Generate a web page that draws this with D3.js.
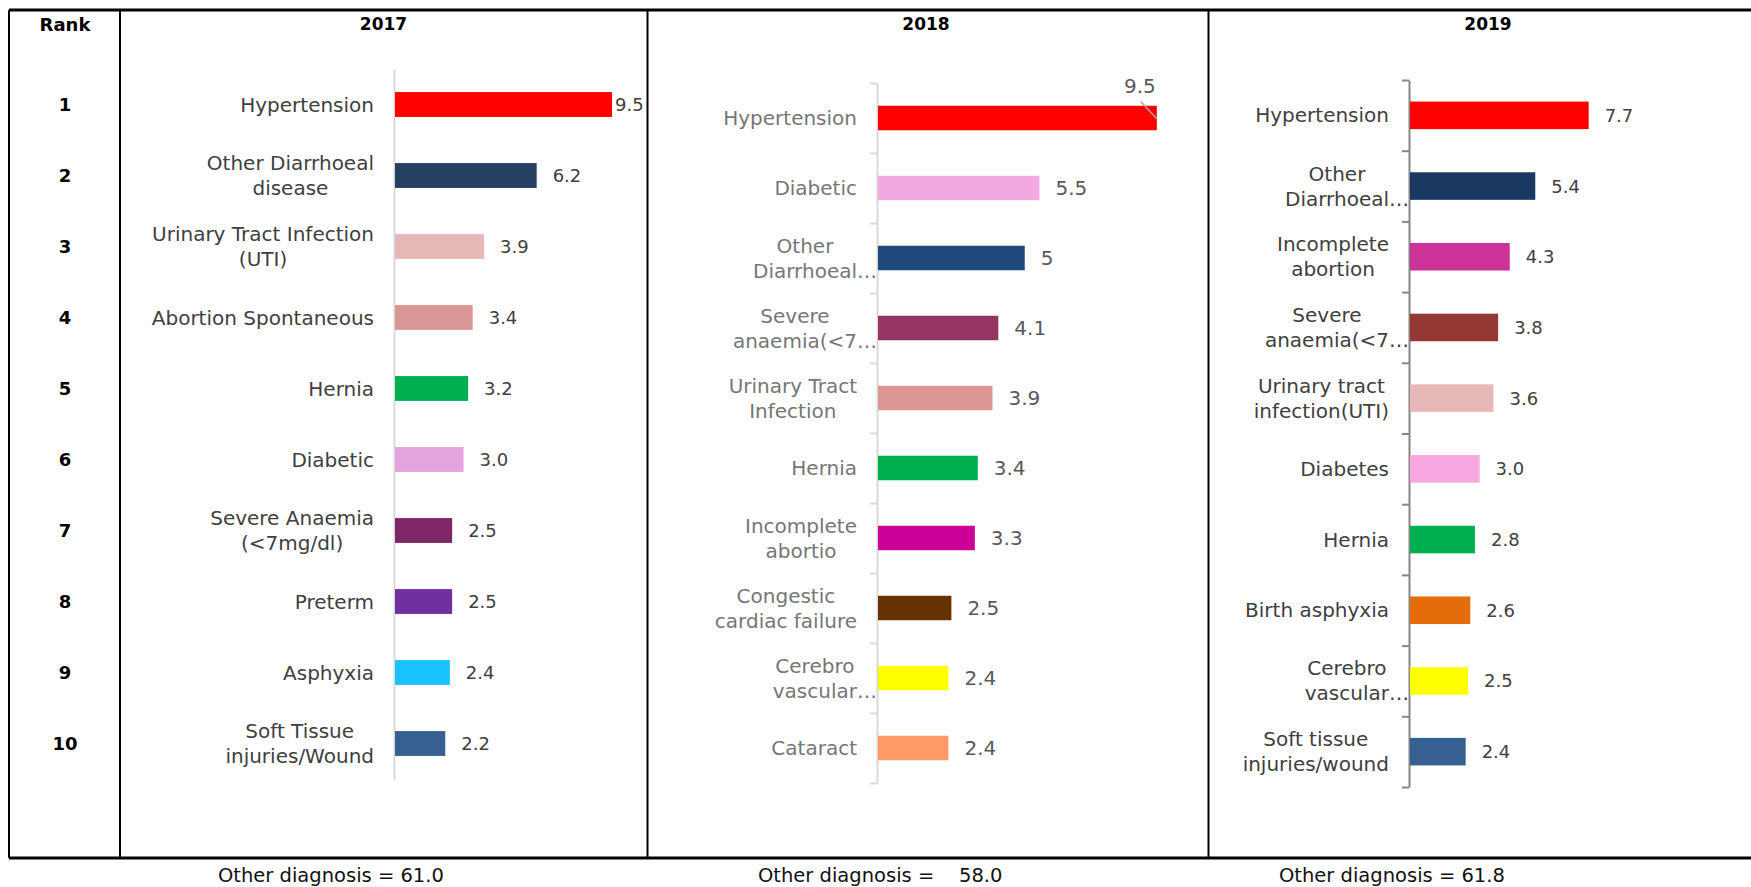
<!DOCTYPE html>
<html>
<head>
<meta charset="utf-8">
<script src="https://cdn.jsdelivr.net/npm/d3@7"></script>
<style>
  html, body { margin: 0; padding: 0; background: #fff; }
  svg { display: block; }
  text { font-family: "DejaVu Sans", "Noto Sans", sans-serif; }
</style>
</head>
<body>
<svg id="chart" width="1751" height="887"></svg>
<script>
// ---- Data: ten leading diagnoses per year (percent of admissions) ----
const ranks = [1, 2, 3, 4, 5, 6, 7, 8, 9, 10];
const years = ["2017", "2018", "2019"];

const causes2017 = [
  "Hypertension", "Other Diarrhoeal\ndisease", "Urinary Tract Infection\n(UTI)",
  "Abortion Spontaneous", "Hernia", "Diabetic", "Severe Anaemia\n(<7mg/dl)",
  "Preterm", "Asphyxia", "Soft Tissue\ninjuries/Wound"
];
const values2017 = [9.5, 6.2, 3.9, 3.4, 3.2, 3.0, 2.5, 2.5, 2.4, 2.2];
const colors2017 = ["#ff0000", "#243f60", "#e6b9b8", "#d99694", "#00b050",
                    "#e4a2de", "#7f2568", "#7030a0", "#19c3fd", "#376092"];

const causes2018 = [
  "Hypertension", "Diabetic", "Other\nDiarrhoeal…", "Severe\nanaemia(<7…",
  "Urinary Tract\nInfection", "Hernia", "Incomplete\nabortio",
  "Congestic\ncardiac failure", "Cerebro\nvascular…", "Cataract"
];
const values2018 = [9.5, 5.5, 5, 4.1, 3.9, 3.4, 3.3, 2.5, 2.4, 2.4];
const colors2018 = ["#ff0000", "#f2a9e0", "#1f497d", "#953563", "#d99694",
                    "#00b050", "#cc0099", "#663300", "#ffff00", "#ff9966"];

const causes2019 = [
  "Hypertension", "Other\nDiarrhoeal…", "Incomplete\nabortion", "Severe\nanaemia(<7…",
  "Urinary tract\ninfection(UTI)", "Diabetes", "Hernia", "Birth asphyxia",
  "Cerebro\nvascular…", "Soft tissue\ninjuries/wound"
];
const values2019 = [7.7, 5.4, 4.3, 3.8, 3.6, 3.0, 2.8, 2.6, 2.5, 2.4];
const colors2019 = ["#ff0000", "#1a3960", "#cc3399", "#953735", "#e6b9b8",
                    "#f7a8e0", "#00b050", "#e46c0a", "#ffff00", "#376092"];

const otherDiagnosis = ["Other diagnosis = 61.0", "Other diagnosis =    58.0", "Other diagnosis = 61.8"];

// ---- Layout of the table and its three chart panels ----
const frame = { left: 9, right: 1751, top: 10, bottom: 858, rankRight: 120 };

const panels = [
  { year: years[0], causes: causes2017, values: values2017, colors: colors2017,
    left: 120, right: 647.5, headX: 383.5,
    x0: 395, x1: 623.5, y0: 69, y1: 779, pad: 0.65, plotRight: 644,
    axisColor: "#d9d9d9", ticks: false,
    labelColor: "#404040", valueColor: "#404040", valueFont: "DejaVu Sans", valueSize: 18,
    fmt: d3.format(".1f"), overflow: "tight", noteX: 218 },
  { year: years[1], causes: causes2018, values: values2018, colors: colors2018,
    left: 647.5, right: 1208.5, headX: 926,
    x0: 878, x1: 1171.5, y0: 83, y1: 783, pad: 0.65, plotRight: 1170,
    axisColor: "#d9d9d9", ticks: true,
    labelColor: "#767676", valueColor: "#595959", valueFont: "Liberation Serif", valueSize: 20,
    fmt: d => String(d), overflow: "callout", noteX: 758 },
  { year: years[2], causes: causes2019, values: values2019, colors: colors2019,
    left: 1208.5, right: 1751, headX: 1488,
    x0: 1410, x1: 1642, y0: 80, y1: 787, pad: 0.61, plotRight: 1740,
    axisColor: "#868686", ticks: true,
    labelColor: "#404040", valueColor: "#404040", valueFont: "DejaVu Sans", valueSize: 18,
    fmt: d3.format(".1f"), overflow: "tight", noteX: 1279 }
];

const svg = d3.select("#chart");

// hidden text node for measuring string widths (removed once drawing is done)
const meter = svg.append("text").attr("x", 0).attr("y", 0).attr("visibility", "hidden");
function measure(str, family, size) {
  meter.attr("font-family", family).attr("font-size", size).text(str);
  return meter.node().getComputedTextLength();
}

// ---- Table frame ----
const grid = svg.append("g").attr("stroke", "#000").attr("fill", "none");
grid.append("line").attr("x1", frame.left).attr("x2", frame.right)
  .attr("y1", frame.top).attr("y2", frame.top).attr("stroke-width", 3);
grid.append("line").attr("x1", frame.left).attr("x2", frame.right)
  .attr("y1", frame.bottom).attr("y2", frame.bottom).attr("stroke-width", 3);
[frame.left, frame.rankRight, panels[0].right, panels[1].right].forEach(x => {
  grid.append("line").attr("x1", x).attr("x2", x)
    .attr("y1", frame.top).attr("y2", frame.bottom).attr("stroke-width", 2);
});

// ---- Header row ----
const rankX = (frame.left + frame.rankRight) / 2 + 0.5;
svg.append("text").attr("x", rankX).attr("y", 24)
  .attr("text-anchor", "middle").attr("dominant-baseline", "central")
  .attr("font-weight", "bold").attr("font-size", 18).attr("fill", "#000").text("Rank");

panels.forEach(p => {
  svg.append("text").attr("x", p.headX).attr("y", 24)
    .attr("text-anchor", "middle").attr("dominant-baseline", "central")
    .attr("font-weight", "bold").attr("font-size", 17).attr("fill", "#000").text(p.year);
});

// ---- Panels ----
panels.forEach((p, pi) => {
  const g = svg.append("g");
  const idx = d3.range(p.values.length);

  const x = d3.scaleLinear().domain([0, 10]).range([p.x0, p.x1]);
  const y = d3.scaleBand().domain(idx).range([p.y0, p.y1])
    .paddingInner(p.pad).paddingOuter(p.pad / 2);

  // category axis: line with optional boundary ticks
  const boundary = d3.scaleLinear().domain([0, idx.length]).range([p.y0, p.y1]);
  const axis = d3.axisLeft(boundary)
    .tickValues(p.ticks ? d3.range(idx.length + 1) : [])
    .tickFormat("")
    .tickSizeInner(p.ticks ? 7 : 0)
    .tickSizeOuter(0);
  const ag = g.append("g").attr("transform", `translate(${x(0) - 1},0)`).call(axis);
  ag.select(".domain").attr("stroke", p.axisColor).attr("stroke-width", 2);
  ag.selectAll(".tick line").attr("stroke", p.axisColor).attr("stroke-width", 2);

  // bars
  g.selectAll("rect.bar").data(idx).join("rect")
    .attr("class", "bar")
    .attr("x", x(0))
    .attr("y", i => y(i))
    .attr("width", i => x(p.values[i]) - x(0))
    .attr("height", y.bandwidth())
    .attr("fill", i => p.colors[i]);

  // category labels: block right-aligned to the axis, lines centred on each other
  idx.forEach(i => {
    const lines = p.causes[i].split("\n");
    const widths = lines.map(l => measure(l.replace(/…$/, ""), "DejaVu Sans", 20));
    const blockW = d3.max(widths);
    const cx = x(0) - 21 - blockW / 2;
    const yc = y(i) + y.bandwidth() / 2;
    lines.forEach((l, k) => {
      g.append("text")
        .attr("x", cx - widths[k] / 2)
        .attr("y", yc + (k - (lines.length - 1) / 2) * 25)
        .attr("dominant-baseline", "central")
        .attr("font-size", 20).attr("fill", p.labelColor)
        .text(l);
    });
  });

  // value labels
  idx.forEach(i => {
    const v = p.values[i];
    const label = p.fmt(v);
    const w = measure(label, p.valueFont, p.valueSize);
    const end = x(v);
    const top = y(i);
    const yc = top + y.bandwidth() / 2;
    const t = g.append("text")
      .attr("font-family", p.valueFont).attr("font-size", p.valueSize)
      .attr("fill", p.valueColor).text(label);
    if (end + 16 + w <= p.plotRight) {
      t.attr("x", end + 16).attr("y", yc).attr("dominant-baseline", "central");
    } else if (p.overflow === "tight") {
      t.attr("x", end + 3).attr("y", yc).attr("dominant-baseline", "central");
    } else {
      t.attr("x", end - 17).attr("y", top - 20)
        .attr("text-anchor", "middle").attr("dominant-baseline", "central");
      g.append("line")
        .attr("x1", end - 16).attr("y1", top - 4)
        .attr("x2", end).attr("y2", top + 13)
        .attr("stroke", "#a6a6a6").attr("stroke-width", 1.5);
    }
  });

  // "Other diagnosis" note under the table
  svg.append("text")
    .attr("x", p.noteX).attr("y", 875)
    .attr("dominant-baseline", "central")
    .attr("font-size", 19.5).attr("fill", "#111")
    .style("white-space", "pre")
    .text(otherDiagnosis[pi]);
});

// ---- Rank numbers, aligned with the 2017 rows ----
const rankY = d3.scaleBand().domain(d3.range(ranks.length))
  .range([panels[0].y0, panels[0].y1])
  .paddingInner(panels[0].pad).paddingOuter(panels[0].pad / 2);
svg.append("g").selectAll("text").data(ranks).join("text")
  .attr("x", rankX)
  .attr("y", (d, i) => rankY(i) + rankY.bandwidth() / 2)
  .attr("text-anchor", "middle").attr("dominant-baseline", "central")
  .attr("font-weight", "bold").attr("font-size", 18).attr("fill", "#000")
  .text(d => d);

meter.remove();
</script>
</body>
</html>
